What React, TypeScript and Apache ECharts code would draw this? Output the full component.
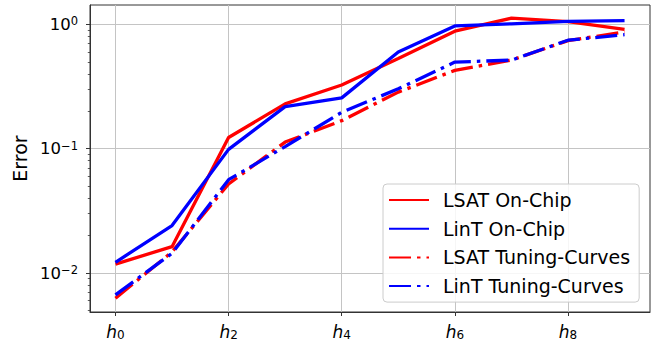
import React, { useEffect, useRef } from "react";
import * as echarts from "echarts";

// x positions h0..h9
const xIndex = [0, 1, 2, 3, 4, 5, 6, 7, 8, 9];
const xTickValues = [0, 2, 4, 6, 8];

// series values
const lsatOnChip = [0.0118, 0.0163, 0.123, 0.229, 0.325, 0.53, 0.88, 1.12, 1.05, 0.91];
const lintOnChip = [0.0122, 0.0241, 0.0987, 0.218, 0.256, 0.598, 0.97, 1.01, 1.055, 1.07];
const lsatTuning = [0.00628, 0.0148, 0.052, 0.113, 0.168, 0.285, 0.426, 0.515, 0.74, 0.867];
const lintTuning = [0.00668, 0.0144, 0.0563, 0.104, 0.196, 0.303, 0.497, 0.515, 0.745, 0.826];

const seriesNames = ["LSAT On-Chip", "LinT On-Chip", "LSAT Tuning-Curves", "LinT Tuning-Curves"];

// y axis (log scale) ticks and limits
const yMajorTicks = [0.01, 0.1, 1];
const yMinorTicks = [
  0.005, 0.006, 0.007, 0.008, 0.009,
  0.02, 0.03, 0.04, 0.05, 0.06, 0.07, 0.08, 0.09,
  0.2, 0.3, 0.4, 0.5, 0.6, 0.7, 0.8, 0.9,
];
const yLimits = [0.00486, 1.43];
const xLimits = [-0.45, 9.45];

const FONT = "DejaVu Sans";
const RED = "#ff0000";
const BLUE = "#0000ff";
const DASHDOT = [22, 6, 3.5, 6];

export default function App() {
  const ref = useRef<HTMLDivElement>(null);
  useEffect(() => {
    if (!ref.current) return;
    const chart = echarts.init(ref.current, null, { renderer: "svg" });
    const lg = (v: number) => Math.log10(v);
    const toData = (vals: number[]) => xIndex.map((x, i) => [x, lg(vals[i])]);
    const yMin = lg(yLimits[0]);
    const yMax = lg(yLimits[1]);
    const fmtExp = (v: number) => {
      const e = Math.round(v);
      return e < 0 ? "\u2212" + String(-e) : String(e);
    };
    const mk = (name: string, vals: number[], color: string, dashed: boolean) => ({
      name,
      type: "line",
      data: toData(vals),
      showSymbol: false,
      symbol: "none",
      lineStyle: { color, width: 3.3, type: dashed ? DASHDOT : "solid", cap: "butt" },
      itemStyle: { color },
      z: 3,
    });
    chart.setOption({
      animation: false,
      grid: {
        left: 90,
        right: 11,
        top: 5,
        bottom: 34,
        show: true,
        borderColor: "#333",
        borderWidth: 1,
        backgroundColor: "transparent",
      },
      legend: {
        orient: "vertical",
        left: 383,
        top: 184,
        data: seriesNames,
        itemWidth: 40,
        itemHeight: 14,
        itemGap: 7.7,
        padding: [5.5, 9, 5.5, 5],
        backgroundColor: "rgba(255,255,255,0.85)",
        borderColor: "#cccccc",
        borderWidth: 1,
        borderRadius: 4,
        itemStyle: { color: "transparent", borderWidth: 0, opacity: 0 },
        textStyle: {
          fontFamily: FONT,
          fontSize: 19,
          color: "#000",
          lineHeight: 21,
          padding: [0, 0, 0, 9],
        },
      },
      xAxis: {
        type: "value",
        min: xLimits[0],
        max: xLimits[1],
        axisLine: { show: true, onZero: false, lineStyle: { color: "#333", width: 1 } },
        axisTick: {
          show: true,
          length: 4,
          customValues: xTickValues,
          lineStyle: { color: "#333", width: 1 },
        },
        axisLabel: {
          customValues: xTickValues,
          margin: 10,
          formatter: (v: number) => `{i|h}{s|${Math.round(v)}}`,
          rich: {
            i: { fontFamily: FONT, fontStyle: "italic", fontSize: 17, color: "#000", lineHeight: 19 },
            s: { fontFamily: FONT, fontSize: 12, color: "#000", lineHeight: 12, verticalAlign: "bottom" },
          },
        },
        splitLine: { show: true, lineStyle: { color: "#c4c4c4", width: 1 } },
      },
      yAxis: [
        {
          type: "value",
          min: yMin,
          max: yMax,
          name: "Error",
          nameLocation: "middle",
          nameGap: 56,
          nameTextStyle: { fontFamily: FONT, fontSize: 19, color: "#000" },
          axisLine: { show: true, onZero: false, lineStyle: { color: "#333", width: 1 } },
          axisTick: {
            show: true,
            length: 4,
            customValues: yMajorTicks.map(lg),
            lineStyle: { color: "#333", width: 1 },
          },
          axisLabel: {
            customValues: yMajorTicks.map(lg),
            margin: 12,
            formatter: (v: number) => `{b|10}{p|${fmtExp(v)}}`,
            rich: {
              b: { fontFamily: FONT, fontSize: 16.5, color: "#000", lineHeight: 18 },
              p: { fontFamily: FONT, fontSize: 11.5, color: "#000", lineHeight: 11, verticalAlign: "top" },
            },
          },
          splitLine: { show: true, lineStyle: { color: "#c4c4c4", width: 1 } },
        },
        {
          type: "value",
          min: yMin,
          max: yMax,
          position: "left",
          axisLine: { show: false, onZero: false },
          axisTick: {
            show: true,
            length: 2.2,
            customValues: yMinorTicks.map(lg),
            lineStyle: { color: "#333", width: 0.8 },
          },
          axisLabel: { show: false },
          splitLine: { show: false },
        },
      ],
      series: [
        mk(seriesNames[0], lsatOnChip, RED, false),
        mk(seriesNames[1], lintOnChip, BLUE, false),
        mk(seriesNames[2], lsatTuning, RED, true),
        mk(seriesNames[3], lintTuning, BLUE, true),
      ],
    });
    return () => chart.dispose();
  }, []);
  return (
    <div
      ref={ref}
      style={{ position: "absolute", left: 0, top: 0, width: 661, height: 346, background: "#fff" }}
    />
  );
}
